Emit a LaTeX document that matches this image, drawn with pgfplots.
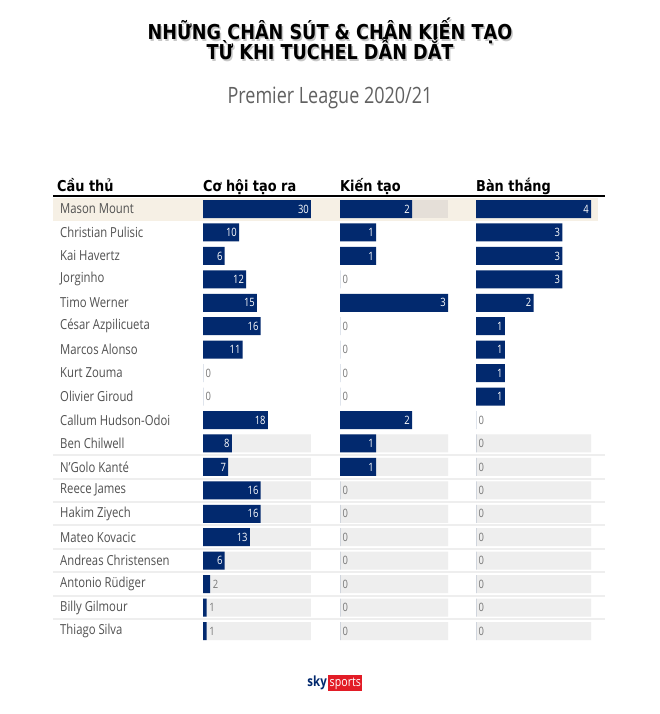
\documentclass[border=0pt]{standalone}
\usepackage{fontspec}
\setmainfont{Open Sans}[FakeStretch=0.82]
\newfontfamily\titlefont{DejaVu Sans}[FakeStretch=0.86]
\newfontfamily\subfont{Open Sans}[FakeStretch=0.8]
\usepackage{pgfplots}
\pgfplotsset{compat=1.18}
\usepackage{pgfplotstable}
\definecolor{navy}{RGB}{2,41,110}
\definecolor{track}{RGB}{238,238,238}
\definecolor{beige}{RGB}{246,240,229}
\definecolor{beigetrack}{RGB}{229,223,216}
\definecolor{namegray}{RGB}{80,80,80}
\definecolor{zerogray}{RGB}{120,120,120}
\definecolor{skyred}{RGB}{226,28,38}

\pgfplotstableread{
r c a g
0 30 2 4
1 10 1 3
2 6 1 3
3 12 0 3
4 15 3 2
5 16 0 1
6 11 0 1
7 0 0 1
8 0 0 1
9 18 2 0
10 8 1 0
11 7 1 0
12 16 0 0
13 16 0 0
14 13 0 0
15 6 0 0
16 2 0 0
17 1 0 0
18 1 0 0
}\data

\pgfplotstableread{
r c a g
10 30 3 4
11 30 3 4
12 30 3 4
13 30 3 4
14 30 3 4
15 30 3 4
16 30 3 4
17 30 3 4
18 30 3 4
}\tracks

\newcommand\valfont{\fontsize{11.5}{12}\selectfont}
\newcommand\namefont{\fontsize{13.8}{15}\selectfont}

\pgfplotsset{
  /pgf/number format/assume math mode=true,
  col/.style={
    scale only axis, width=#1, height=445.44pt,
    ymin=-0.5, ymax=18.5, y dir=reverse,
    anchor=north west, clip=false,
  },
  barp/.style={xbar, bar shift=0pt, bar width=18pt, draw=none, fill=#1},
  inlab/.style={draw=none, mark=none, nodes near coords, point meta=x,
    nodes near coords style={anchor=east, text=white, font=\valfont, xshift=0pt, inner sep=2pt},
    x filter/.expression={x<#1 ? nan : x}},
  outlab/.style={draw=none, mark=none, nodes near coords, point meta=x,
    nodes near coords style={anchor=west, text=zerogray, font=\valfont, xshift=0.5pt, inner sep=2pt},
    x filter/.expression={x<#1 ? x : nan}},
}

\begin{document}
\begin{tikzpicture}[x=1pt,y=1pt]
\useasboundingbox[fill=white] (0,0) rectangle (660,-714);

% titles
\begin{scope}[font=\titlefont\bfseries\fontsize{20.5}{22}\selectfont]
\node[anchor=base, text=black!22] at (331.5,-41.5) {NHỮNG CHÂN SÚT \& CHÂN KIẾN TẠO};
\node[anchor=base] at (330,-40) {NHỮNG CHÂN SÚT \& CHÂN KIẾN TẠO};
\node[anchor=base, text=black!22] at (331.5,-61.5) {TỪ KHI TUCHEL DẪN DẮT};
\node[anchor=base] at (330,-60) {TỪ KHI TUCHEL DẪN DẮT};
\end{scope}
\node[anchor=base, text=black!62, font=\subfont\fontsize{22.5}{24}\selectfont] at (330,-104) {Premier League 2020/21};

% headers
\begin{scope}[font=\titlefont\bfseries\fontsize{15}{18}\selectfont, inner sep=0pt]
\node[anchor=base west] at (57,-191) {Cầu thủ};
\node[anchor=base west] at (203,-191) {Cơ hội tạo ra};
\node[anchor=base west] at (340,-191) {Kiến tạo};
\node[anchor=base west] at (476,-191) {Bàn thắng};
\end{scope}
\draw[line width=2pt] (53,-195.5) -- (605,-195.5);

% highlight row & separators
\fill[beige] (53,-198) rectangle (598,-220.5);
\foreach \k in {10,...,17} {
  \draw[track, line width=2pt] (53,{-(209+23.44*(\k+0.5))}) -- (605,{-(209+23.44*(\k+0.5))});
}

% column 1
\begin{axis}[col=108pt, at={(203pt,-197.28pt)},
  xmin=0, xmax=30,
  axis line style={draw=none}, xtick=\empty, major tick length=0pt,
  ytick={0,...,18},
  yticklabels={Mason Mount,Christian Pulisic,Kai Havertz,Jorginho,Timo Werner,César Azpilicueta,Marcos Alonso,Kurt Zouma,Olivier Giroud,Callum Hudson-Odoi,Ben Chilwell,N'Golo Kanté,Reece James,Hakim Ziyech,Mateo Kovacic,Andreas Christensen,Antonio Rüdiger,Billy Gilmour,Thiago Silva},
  yticklabel style={anchor=west, xshift=-143pt, font=\namefont, text=namegray, inner sep=0pt},
]
\addplot[barp=track] table[x=c,y=r]{\tracks};
\addplot[barp=navy] table[x=c,y=r]{\data};
\addplot[inlab=3] table[x=c,y=r]{\data};
\addplot[outlab=3] table[x=c,y=r]{\data};
\end{axis}

% column 2
\begin{axis}[col=108pt, at={(340pt,-197.28pt)}, xmin=0, xmax=3, hide axis]
\addplot[barp=track] table[x=a,y=r]{\tracks};
\addplot[barp=beigetrack] coordinates {(3,0)};
\addplot[barp=navy] table[x=a,y=r]{\data};
\addplot[inlab=1] table[x=a,y=r]{\data};
\addplot[outlab=1] table[x=a,y=r]{\data};
\end{axis}

% column 3
\begin{axis}[col=115pt, at={(476pt,-197.28pt)}, xmin=0, xmax=4, hide axis]
\addplot[barp=track] table[x=g,y=r]{\tracks};
\addplot[barp=navy] table[x=g,y=r]{\data};
\addplot[inlab=1] table[x=g,y=r]{\data};
\addplot[outlab=1] table[x=g,y=r]{\data};
\end{axis}

% logo
\node[anchor=base east, inner sep=0pt, text=navy, font=\bfseries\fontsize{14}{16}\selectfont] at (327,-686) {sky};
\node[anchor=base west, fill=skyred, text=white, inner xsep=1.5pt, inner ysep=2pt, font=\fontsize{13}{15}\selectfont] at (328,-686) {sports};
\end{tikzpicture}
\end{document}
